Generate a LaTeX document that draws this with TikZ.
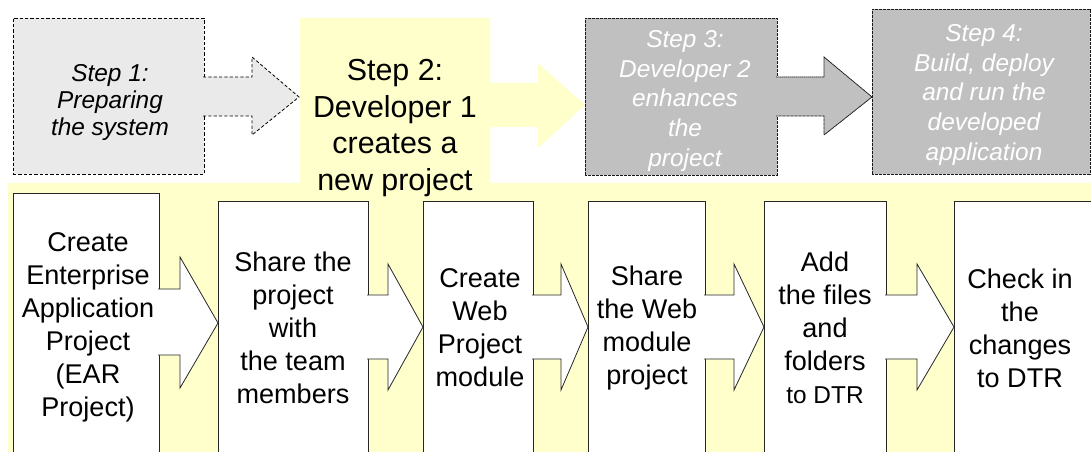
\documentclass[tikz,border=0pt]{standalone}
\usepackage{fontspec}
\setmainfont{Liberation Sans}
\usetikzlibrary{fit,calc}

\definecolor{paleyellow}{HTML}{FFFFCC}
\definecolor{lightgrey}{HTML}{EAEAEA}
\definecolor{midgrey}{HTML}{C0C0C0}

\begin{document}
\begin{tikzpicture}[x=0.75pt,y=-0.75pt,
  stepone/.style={draw=black, fill=lightgrey, dash pattern=on 2.4pt off 1.6pt, line width=0.6pt},
  steplater/.style={draw=black!90, fill=midgrey, dash pattern=on 0.7pt off 0.3pt, line width=0.6pt},
  taskbox/.style={draw=black!85, fill=white, line width=0.6pt},
  boxfit/.style={inner sep=0pt, outer sep=0pt},
  steptext/.style={font=\fontsize{18.3}{20.6}\selectfont\itshape, align=center},
  latertext/.style={font=\fontsize{18.3}{22.2}\selectfont\itshape, align=center, text=white},
  tasktext/.style={font=\fontsize{20.3}{24.75}\selectfont, align=center}]
\useasboundingbox (0,0) rectangle (1091,452);

%Yellow background of step 2
\fill[paleyellow] (300,18) -- (490,18) -- (490,183) -- (1091,183) -- (1091,452) -- (8,452) -- (8,183) -- (300,183) -- cycle;
\node[font=\fontsize{22.8}{27.4}\selectfont, align=center] (s2) at (395,128) {Step 2:\\Developer 1\\creates a\\new project};

%Tasks of step 2
\node[taskbox, boxfit, fit={(13,193) (159,456)}] (b1) {};
\node[taskbox, boxfit, fit={(218,201) (368,456)}] (b2) {};
\node[taskbox, boxfit, fit={(423,201) (533,456)}] (b3) {};
\node[taskbox, boxfit, fit={(588,201) (705,456)}] (b4) {};
\node[taskbox, boxfit, fit={(764,201) (886,456)}] (b5) {};
\node[taskbox, boxfit, fit={(954,201) (1094,456)}] (b6) {};

\node[tasktext] (t1) at (88,327.5) {Create\\Enterprise\\Application\\Project\\(EAR\\Project)};
\node[tasktext] (t2) at (293,328) {Share the\\project\\with\\the team\\members};
\node[tasktext] (t3) at (480,328) {Create\\Web\\Project\\module};
\node[tasktext] (t4) at (647,328) {Share\\the Web\\module\\project};
\node[tasktext] (t5) at (825,328) {Add\\the files\\and\\folders\\{\fontsize{18.3}{24.75}\selectfont to DTR}};
\node[tasktext] (t6) at (1020,328) {Check in\\the\\changes\\to DTR};

\filldraw[taskbox] ($(b1.east |- 0,289)+(-1,0)$) -- (180,289) -- (180,257) -- (b2.west |- 0,323) -- (180,388) -- (180,355) -- ($(b1.east |- 0,355)+(-1,0)$);
\filldraw[taskbox] ($(b2.east |- 0,295)+(-1,0)$) -- (388,295) -- (388,264) -- (b3.west |- 0,327) -- (388,390) -- (388,359) -- ($(b2.east |- 0,359)+(-1,0)$);
\filldraw[taskbox] ($(b3.east |- 0,295)+(-1,0)$) -- (561,295) -- (561,264) -- (b4.west |- 0,327) -- (561,390) -- (561,359) -- ($(b3.east |- 0,359)+(-1,0)$);
\filldraw[taskbox] ($(b4.east |- 0,295)+(-1,0)$) -- (734,295) -- (734,264) -- (b5.west |- 0,327) -- (734,390) -- (734,359) -- ($(b4.east |- 0,359)+(-1,0)$);
\filldraw[taskbox] ($(b5.east |- 0,295)+(-1,0)$) -- (917,295) -- (917,264) -- (b6.west |- 0,327) -- (917,390) -- (917,359) -- ($(b5.east |- 0,359)+(-1,0)$);

%Steps
\node[stepone, boxfit, fit={(13,18) (204,174)}] (s1) {};
\node[steplater, boxfit, fit={(585,18) (777,175)}] (s3) {};
\node[steplater, boxfit, fit={(872,9) (1090,174)}] (s4) {};
\node[steptext] (t7) at (110,102.5) {Step 1:\\Preparing\\the system};
\node[latertext] (t8) at (685,101) {Step 3:\\Developer 2\\enhances\\the\\project};
\node[latertext] (t9) at (984,95) {Step 4:\\Build, deploy\\and run the\\developed\\application};

\filldraw[stepone] ($(s1.east |- 0,77)+(-1,0)$) -- (252,77) -- (252,57) -- (299,97) -- (252,135) -- (252,116) -- ($(s1.east |- 0,116)+(-1,0)$);
\fill[paleyellow] (489,83) -- (538,83) -- (538,63) -- (s3.west |- 0,105) -- (538,148) -- (538,127) -- (489,127) -- cycle;
\filldraw[steplater] ($(s3.east |- 0,77)+(-1,0)$) -- (824,77) -- (824,57) -- (s4.west |- 0,97) -- (824,135) -- (824,116) -- ($(s3.east |- 0,116)+(-1,0)$);
\end{tikzpicture}
\end{document}
